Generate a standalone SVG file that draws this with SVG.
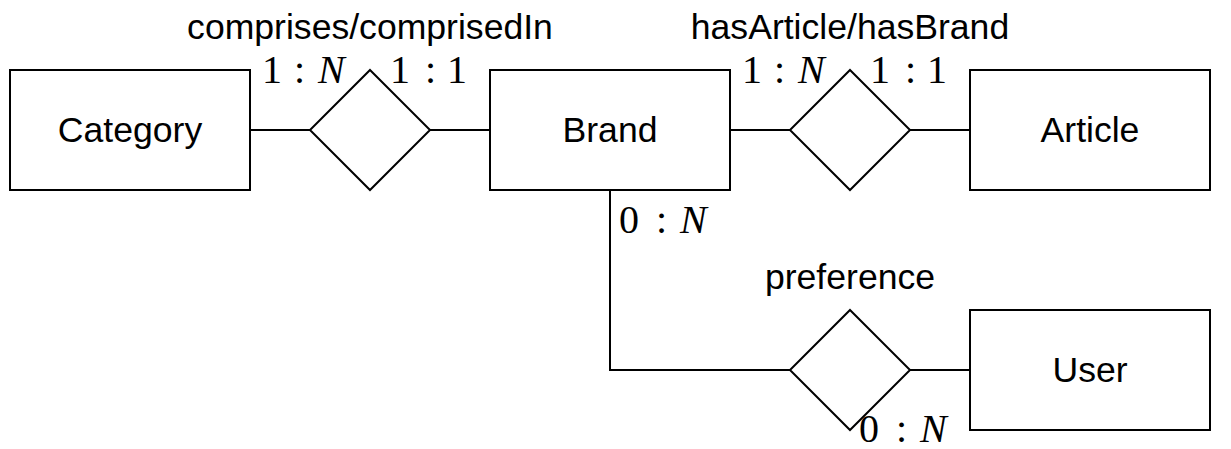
<svg xmlns="http://www.w3.org/2000/svg" width="1231" height="449" viewBox="0 0 1231 449">
<style>
.ent{fill:#fff;stroke:#000;stroke-width:2}
.rel{fill:#fff;stroke:#000;stroke-width:2}
.con{fill:none;stroke:#000;stroke-width:2}
.lbl{font-family:"Liberation Sans",Arial,sans-serif;font-size:35.6px;fill:#000;text-anchor:middle}
.card{font-family:"Liberation Serif","Times New Roman",serif;font-size:40px;fill:#000}
.it{font-style:italic}
</style>
<rect width="1231" height="449" fill="#fff"/>
<g id="connectors">
<path class="con" d="M250 130H310"/>
<path class="con" d="M430 130H490"/>
<path class="con" d="M730 130H790"/>
<path class="con" d="M910 130H970"/>
<path class="con" d="M610 190V370H790"/>
<path class="con" d="M910 370H970"/>
</g>
<g id="category"><rect class="ent" x="10" y="70" width="240" height="120"/><text class="lbl" x="130" y="142">Category</text></g>
<g id="brand"><rect class="ent" x="490" y="70" width="240" height="120"/><text class="lbl" x="610" y="142">Brand</text></g>
<g id="article"><rect class="ent" x="970" y="70" width="240" height="120"/><text class="lbl" x="1090" y="142">Article</text></g>
<g id="user"><rect class="ent" x="970" y="310" width="240" height="120"/><text class="lbl" x="1090" y="382">User</text></g>
<g id="comprises"><path class="rel" d="M370 70L430 130L370 190L310 130Z"/><text class="lbl" x="370" y="39">comprises/comprisedIn</text></g>
<g id="hasArticle"><path class="rel" d="M850 70L910 130L850 190L790 130Z"/><text class="lbl" x="850" y="39">hasArticle/hasBrand</text></g>
<g id="preference"><path class="rel" d="M850 310L910 370L850 430L790 370Z"/><text class="lbl" x="850" y="289">preference</text></g>
<g id="cardinalities">
<text class="card" y="83"><tspan x="262">1</tspan><tspan x="294">:</tspan><tspan class="it" x="318">N</tspan></text>
<text class="card" y="83"><tspan x="390">1</tspan><tspan x="425">:</tspan><tspan x="447">1</tspan></text>
<text class="card" y="83"><tspan x="742">1</tspan><tspan x="774">:</tspan><tspan class="it" x="798">N</tspan></text>
<text class="card" y="83"><tspan x="870">1</tspan><tspan x="905">:</tspan><tspan x="927">1</tspan></text>
<text class="card" y="233"><tspan x="619">0</tspan><tspan x="656">:</tspan><tspan class="it" x="680">N</tspan></text>
<text class="card" y="442"><tspan x="859">0</tspan><tspan x="896">:</tspan><tspan class="it" x="920">N</tspan></text>
</g>
</svg>
